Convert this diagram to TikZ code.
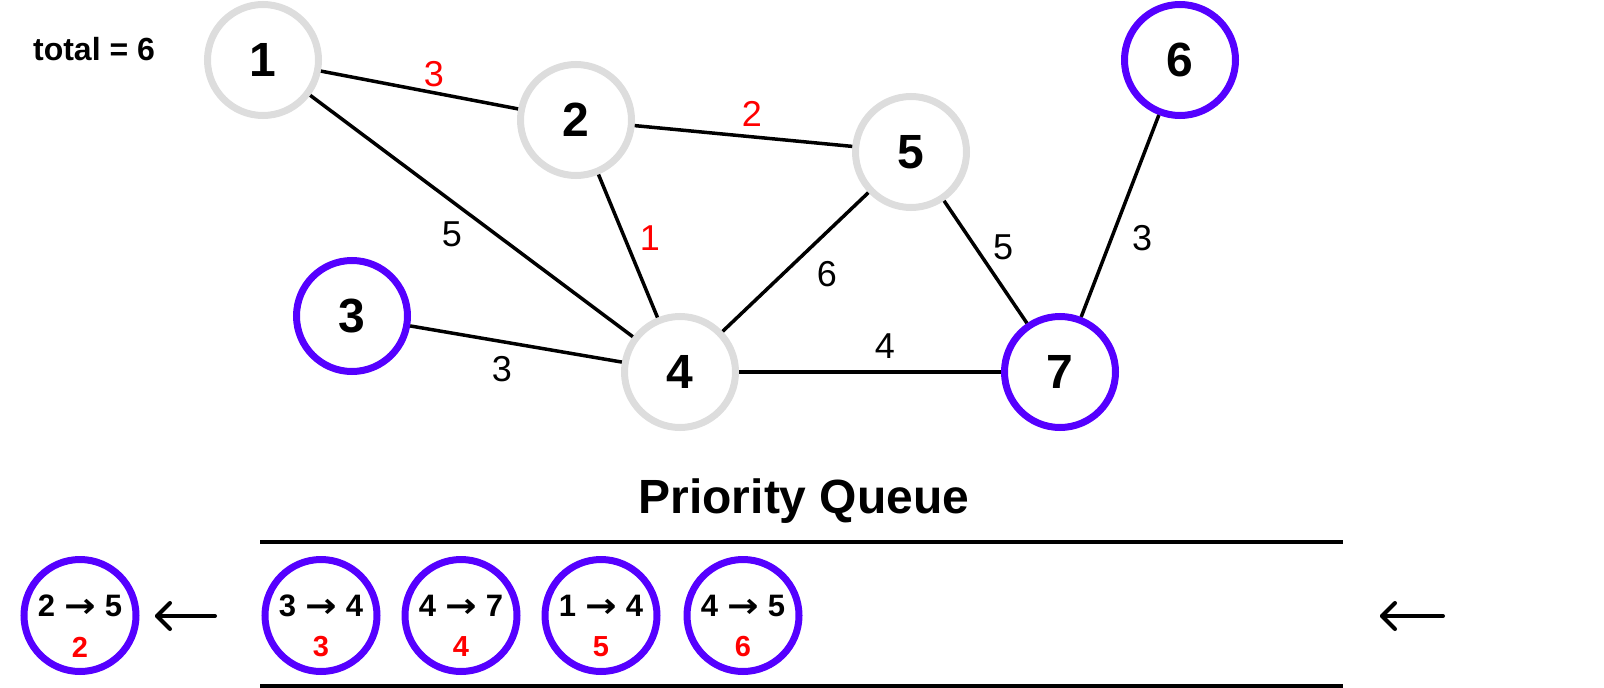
\documentclass[tikz,border=0pt]{standalone}
\usepackage{fontspec}
\setmainfont{Liberation Sans}
\newfontfamily\arrowfont{DejaVu Sans}
\definecolor{ngray}{HTML}{DDDDDD}
\definecolor{npurple}{RGB}{85,0,255}
\definecolor{wred}{RGB}{255,0,0}
\newcommand{\qarr}{\hspace{9pt}\raisebox{-1pt}{\arrowfont\bfseries\fontsize{26}{26}\selectfont\scalebox{1.45}[1.3]{→}}\hspace{9pt}}
\begin{document}
\begin{tikzpicture}[x=1pt,y=-1pt,
  vtx/.style={circle,draw=ngray,line width=7pt,minimum size=111pt,inner sep=0pt,font=\fontsize{48}{48}\selectfont\bfseries},
  vsel/.style={vtx,draw=npurple},
  qbox/.style={circle,draw=npurple,line width=7pt,minimum size=112pt,inner sep=0pt},
  edge/.style={line width=3.5pt,black},
  wt/.style={font=\fontsize{36}{36}\selectfont},
  wsel/.style={wt,text=wred},
  qtop/.style={font=\fontsize{31}{31}\selectfont\bfseries},
  qval/.style={font=\fontsize{29}{29}\selectfont\bfseries,text=wred},
  rail/.style={line width=4pt,black},
  arr/.style={line width=4pt,line cap=round,line join=round,black}]
\useasboundingbox (0,0) rectangle (1604,688);
% vertices
\node[vtx]  (n1) at (263,60)  {1};
\node[vtx]  (n2) at (576,120) {2};
\node[vtx]  (n5) at (911,152) {5};
\node[vsel] (n6) at (1180,60) {6};
\node[vsel] (n3) at (352,316) {3};
\node[vtx]  (n4) at (680,372) {4};
\node[vsel] (n7) at (1060,372) {7};
% edges
\draw[edge] (n1) -- (n2);
\draw[edge] (n1) -- (n4);
\draw[edge] (n2) -- (n5);
\draw[edge] (n2) -- (n4);
\draw[edge] (n5) -- (n4);
\draw[edge] (n5) -- (n7);
\draw[edge] (n3) -- (n4);
\draw[edge] (n4) -- (n7);
\draw[edge] (n6) -- (n7);
% weights
\node[wsel] (w12) at (434,74)  {3};
\node[wsel] (w25) at (752,114) {2};
\node[wsel] (w24) at (650,238) {1};
\node[wt]   (w14) at (452,234) {5};
\node[wt]   (w45) at (827,274) {6};
\node[wt]   (w34) at (502,369) {3};
\node[wt]   (w47) at (885,346) {4};
\node[wt]   (w57) at (1003,247) {5};
\node[wt]   (w67) at (1142,238) {3};
% total
\node[font=\fontsize{32}{32}\selectfont\bfseries] (tot) at (94,49) {total = 6};
% priority queue title and rails
\node[font=\fontsize{48}{48}\selectfont\bfseries] (pq) at (804,501) {Priority Queue};
\coordinate (r1a) at (260,541.7);
\coordinate (r1b) at (1343,541.7);
\coordinate (r2a) at (260,685.7);
\coordinate (r2b) at (1343,685.7);
\draw[rail] (r1a) -- (r1b);
\draw[rail] (r2a) -- (r2b);
% queue items
\node[qbox] (q0) at (80,615.5) {};
\node[qbox] (q1) at (321,615.5) {};
\node[qbox] (q2) at (461,615.5) {};
\node[qbox] (q3) at (601,615.5) {};
\node[qbox] (q4) at (743,615.5) {};
\node[qtop] (q0t) at ([yshift=9.5pt]q0.center) {2\qarr5};
\node[qval] (q0v) at ([yshift=-31.5pt]q0.center) {2};
\node[qtop] (q1t) at ([yshift=9.5pt]q1.center) {3\qarr4};
\node[qval] (q1v) at ([yshift=-31.5pt]q1.center) {3};
\node[qtop] (q2t) at ([yshift=9.5pt]q2.center) {4\qarr7};
\node[qval] (q2v) at ([yshift=-31.5pt]q2.center) {4};
\node[qtop] (q3t) at ([yshift=9.5pt]q3.center) {1\qarr4};
\node[qval] (q3v) at ([yshift=-31.5pt]q3.center) {5};
\node[qtop] (q4t) at ([yshift=9.5pt]q4.center) {4\qarr5};
\node[qval] (q4v) at ([yshift=-31.5pt]q4.center) {6};
% arrows
\coordinate (la) at (157,616);
\coordinate (lb) at (215,616);
\coordinate (ra) at (1382,616);
\coordinate (rb) at (1443,616);
\draw[arr] (lb) -- (la);
\draw[arr] ([shift={(13,-13)}]la) -- (la) -- ([shift={(13,13)}]la);
\draw[arr] (rb) -- (ra);
\draw[arr] ([shift={(13,-13)}]ra) -- (ra) -- ([shift={(13,13)}]ra);
\end{tikzpicture}
\end{document}
